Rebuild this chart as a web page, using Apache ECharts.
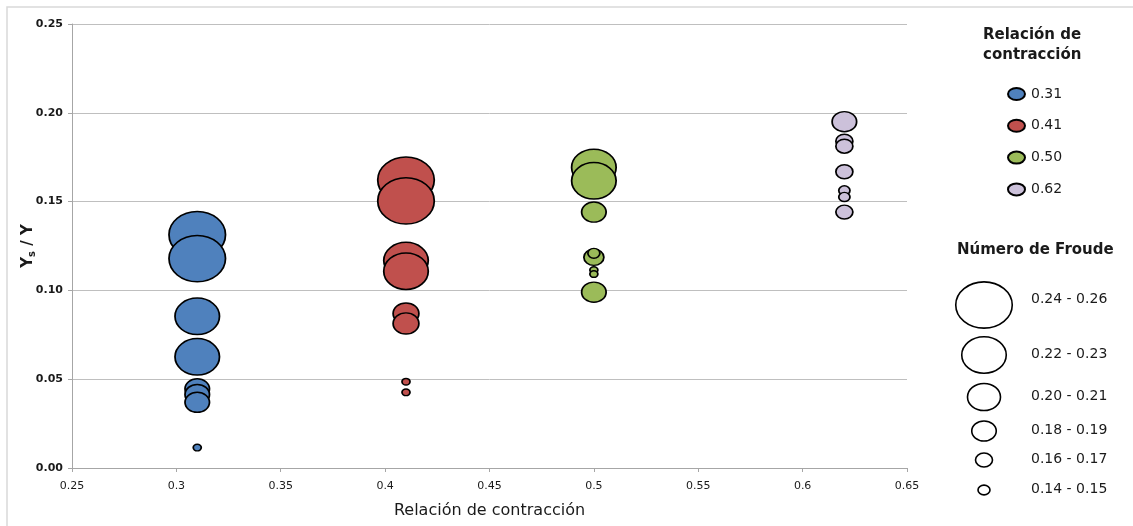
<!DOCTYPE html>
<html>
<head>
<meta charset="utf-8">
<title>Relación de contracción – Ys / Y</title>
<script src="https://cdn.jsdelivr.net/npm/echarts@6/dist/echarts.min.js"></script>
<style>
  html, body { margin: 0; padding: 0; background: #ffffff; }
  #chart { width: 1133px; height: 526px; }
</style>
</head>
<body>
<div id="chart"></div>
<script>
// ---- data -------------------------------------------------------------
// Relación de contracción of each test group (x position of its bubbles)
const contraction = [0.31, 0.41, 0.50, 0.62];
const groupNames = ['0.31', '0.41', '0.50', '0.62'];

// Ys / Y measured in each group
const ysY031 = [0.1314, 0.1179, 0.0854, 0.0626, 0.0446, 0.0414, 0.0370, 0.0115];
const ysY041 = [0.1621, 0.1504, 0.1168, 0.1108, 0.0870, 0.0814, 0.0486, 0.0426];
const ysY050 = [0.1692, 0.1617, 0.1441, 0.1187, 0.1209, 0.1115, 0.1092, 0.0990];
const ysY062 = [0.1950, 0.1840, 0.1812, 0.1668, 0.1563, 0.1526, 0.1441];

// Número de Froude of each test (sets the bubble size)
const fr031 = [0.250, 0.250, 0.225, 0.225, 0.185, 0.185, 0.185, 0.120];
const fr041 = [0.250, 0.250, 0.225, 0.225, 0.188, 0.188, 0.120, 0.120];
const fr050 = [0.225, 0.225, 0.185, 0.173, 0.145, 0.120, 0.120, 0.185];
const fr062 = [0.185, 0.165, 0.165, 0.165, 0.140, 0.140, 0.165];

// Froude classes shown in the size legend
const froudeClasses = ['0.24 - 0.26', '0.22 - 0.23', '0.20 - 0.21', '0.18 - 0.19', '0.16 - 0.17', '0.14 - 0.15'];
const froudeClassMid = [0.250, 0.225, 0.205, 0.185, 0.165, 0.145];

// axis tick labels
const xTickLabels = ['0.25', '0.3', '0.35', '0.4', '0.45', '0.5', '0.55', '0.6', '0.65'];
const yTickLabels = ['0.00', '0.05', '0.10', '0.15', '0.20', '0.25'];

// ---- styling ----------------------------------------------------------
const colors = ['#4F81BD', '#C0504D', '#9BBB59', '#CCC1DA'];
const FONT = '"DejaVu Sans", Verdana, sans-serif';

// bubble width (px) as a function of the Froude number
const sizeKnots = [[0.12, 8], [0.145, 12], [0.165, 17], [0.185, 24.5], [0.205, 33], [0.225, 44.5], [0.25, 56.5]];
function bubbleWidth(fr) {
  if (fr <= sizeKnots[0][0]) return sizeKnots[0][1];
  for (let i = 1; i < sizeKnots.length; i++) {
    const [f1, w1] = sizeKnots[i];
    const [f0, w0] = sizeKnots[i - 1];
    if (fr <= f1) return w0 + (w1 - w0) * (fr - f0) / (f1 - f0);
  }
  return sizeKnots[sizeKnots.length - 1][1];
}
const ASPECT = 1.22; // bubbles are drawn slightly wider than tall
function bubbleSize(fr) {
  const w = bubbleWidth(fr);
  return [w, w / ASPECT];
}
const ELLIPSE = 'path://M0,1a1,1 0 1,0 2,0a1,1 0 1,0 -2,0z';

const groupsY = [ysY031, ysY041, ysY050, ysY062];
const groupsF = [fr031, fr041, fr050, fr062];

const series = groupNames.map((name, g) => ({
  name: name,
  type: 'scatter',
  symbol: ELLIPSE,
  symbolKeepAspect: false,
  data: groupsY[g].map((y, i) => [contraction[g], y, groupsF[g][i]]),
  symbolSize: (val) => bubbleSize(val[2]),
  itemStyle: { color: colors[g], borderColor: '#000000', borderWidth: 1.6, opacity: 1 },
  emphasis: { disabled: true },
  z: 3
}));

// ---- size legend (Número de Froude) ------------------------------------
const froudeRowY = [305, 355, 397, 431, 460, 490];
const sizeLegend = [];
froudeClasses.forEach((label, i) => {
  const [w, h] = bubbleSize(froudeClassMid[i]);
  sizeLegend.push({
    type: 'ellipse',
    shape: { cx: 984, cy: froudeRowY[i], rx: w / 2, ry: h / 2 },
    style: { fill: '#ffffff', stroke: '#000000', lineWidth: 1.6 }
  });
  sizeLegend.push({
    type: 'text',
    left: 1031,
    top: froudeRowY[i] - (i === 0 ? 13 : 8),
    style: { text: label, font: '14px ' + FONT, fill: '#1a1a1a' }
  });
});

const chart = echarts.init(document.getElementById('chart'), null, { renderer: 'canvas' });
chart.setOption({
  backgroundColor: '#ffffff',
  animation: false,
  grid: { left: 72, right: 226, top: 24, bottom: 58, containLabel: false },
  xAxis: {
    type: 'value',
    min: 0.25, max: 0.65, interval: 0.05,
    name: 'Relación de contracción',
    nameLocation: 'middle',
    nameGap: 35,
    nameTextStyle: { fontFamily: FONT, fontSize: 16, color: '#1a1a1a' },
    axisLine: { show: true, lineStyle: { color: '#a6a6a6', width: 1 } },
    axisTick: { show: true, length: 4, lineStyle: { color: '#a6a6a6' } },
    axisLabel: {
      margin: 13,
      fontFamily: FONT, fontSize: 11, color: '#1a1a1a',
      formatter: (v) => xTickLabels[Math.round((v - 0.25) / 0.05)]
    },
    splitLine: { show: false }
  },
  yAxis: {
    type: 'value',
    min: 0, max: 0.25, interval: 0.05,
    name: '{y|Y}{s|s}{y| / Y}',
    nameLocation: 'middle',
    nameRotate: 90,
    nameGap: 35,
    nameMoveOverlap: false,
    nameTextStyle: {
      rich: {
        y: { fontFamily: FONT, fontSize: 15, fontWeight: 'bold', color: '#1a1a1a', lineHeight: 18 },
        s: { fontFamily: FONT, fontSize: 10, fontWeight: 'bold', color: '#1a1a1a', verticalAlign: 'bottom', lineHeight: 12 }
      }
    },
    axisLine: { show: true, lineStyle: { color: '#a6a6a6', width: 1 } },
    axisTick: { show: true, length: 4, lineStyle: { color: '#a6a6a6' } },
    axisLabel: {
      margin: 9,
      fontFamily: FONT, fontSize: 11, fontWeight: 'bold', color: '#1a1a1a',
      formatter: (v) => yTickLabels[Math.round(v / 0.05)]
    },
    splitLine: { show: true, lineStyle: { color: '#bfbfbf', width: 1 } }
  },
  legend: {
    orient: 'vertical',
    left: 1002,
    top: 82,
    itemWidth: 17,
    itemHeight: 12,
    itemGap: 17.8,
    icon: ELLIPSE,
    symbolKeepAspect: false,
    selectedMode: false,
    textStyle: { fontFamily: FONT, fontSize: 14, color: '#1a1a1a', lineHeight: 14, padding: [0, 0, 0, 1] },
    data: groupNames
  },
  graphic: [
    {
      type: 'rect',
      shape: { x: 7, y: 7, width: 1200, height: 600 },
      style: { fill: 'none', stroke: '#d9d9d9', lineWidth: 1.5 },
      silent: true
    },
    {
      type: 'text',
      left: 983,
      top: 25,
      style: {
        text: 'Relación de\ncontracción',
        font: 'bold 15px ' + FONT,
        fill: '#1a1a1a',
        align: 'center',
        lineHeight: 20,
        x: 52
      }
    },
    {
      type: 'text',
      left: 957,
      top: 243,
      style: { text: 'Número de Froude', font: 'bold 15px ' + FONT, fill: '#1a1a1a' }
    }
  ].concat(sizeLegend),
  series: series
});
</script>
</body>
</html>
